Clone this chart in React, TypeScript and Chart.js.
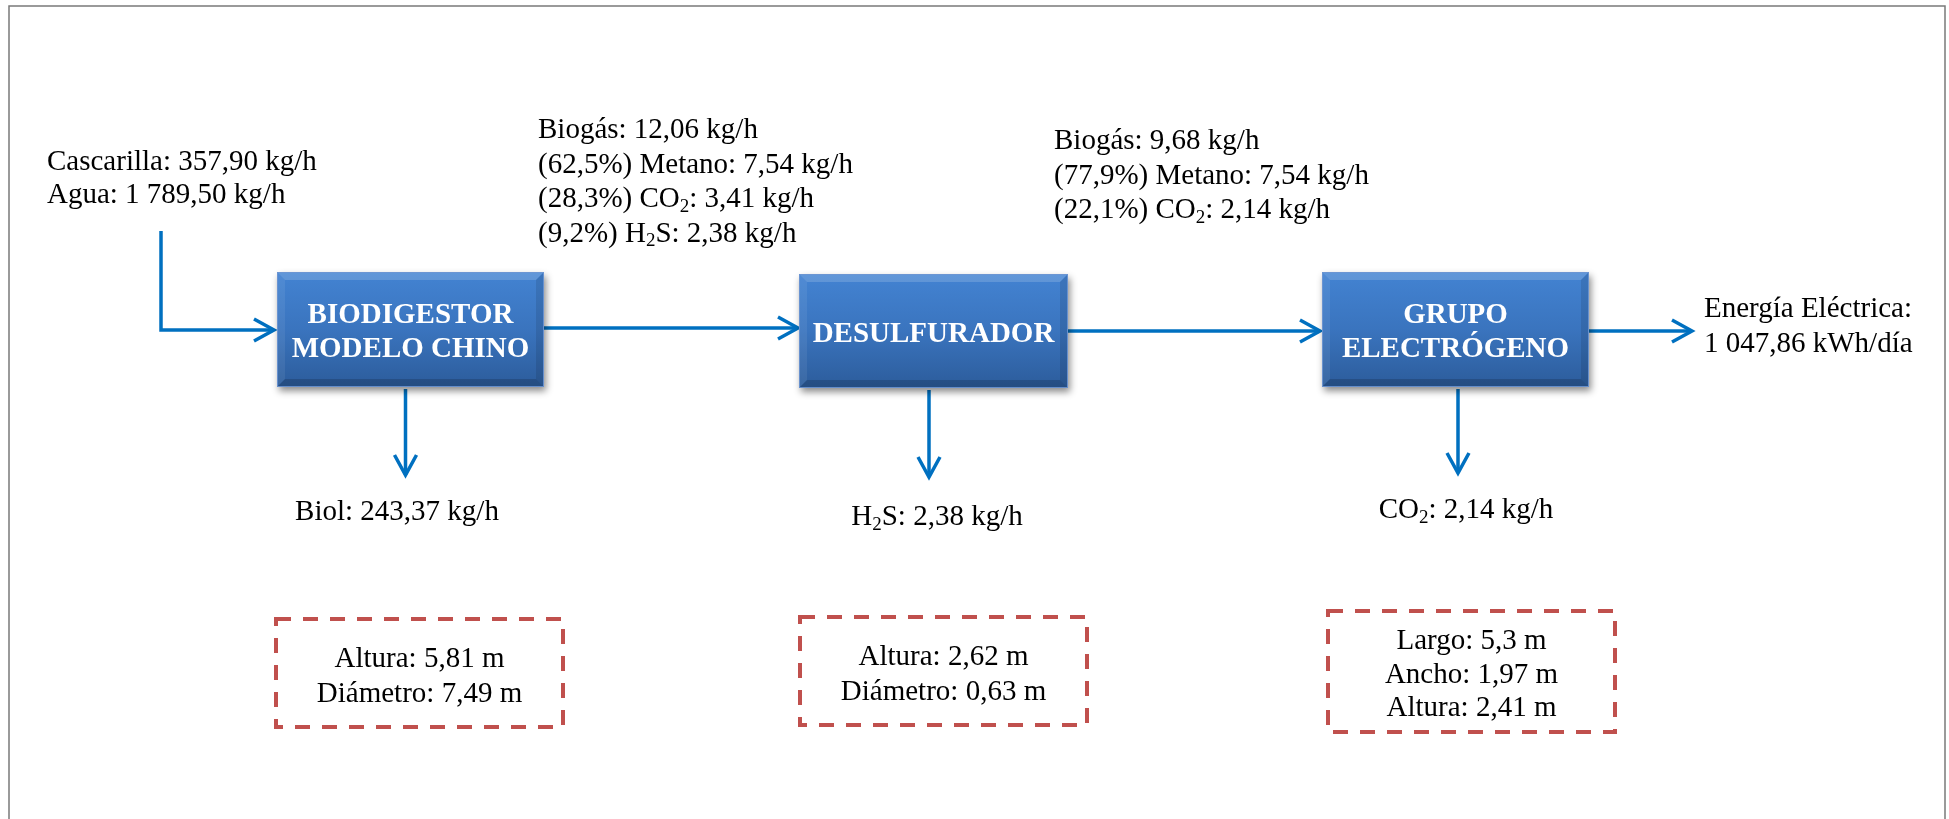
import React, { useEffect, useRef } from "react";
import { Chart, registerables } from "chart.js";

Chart.register(...registerables);

// ---------- content ----------
const unitNames: string[][] = [["BIODIGESTOR", "MODELO CHINO"], ["DESULFURADOR"], ["GRUPO", "ELECTRÓGENO"]];
const feedLines: string[] = ["Cascarilla: 357,90 kg/h", "Agua: 1 789,50 kg/h"];
const rawBiogasLines: string[] = [
  "Biogás: 12,06 kg/h",
  "(62,5%) Metano: 7,54 kg/h",
  "(28,3%) CO_2: 3,41 kg/h",
  "(9,2%) H_2S: 2,38 kg/h",
];
const cleanBiogasLines: string[] = ["Biogás: 9,68 kg/h", "(77,9%) Metano: 7,54 kg/h", "(22,1%) CO_2: 2,14 kg/h"];
const powerLines: string[] = ["Energía Eléctrica:", "1 047,86 kWh/día"];
const sideStreams: string[] = ["Biol: 243,37 kg/h", "H_2S: 2,38 kg/h", "CO_2: 2,14 kg/h"];
const sizingLines: string[][] = [
  ["Altura: 5,81 m", "Diámetro: 7,49 m"],
  ["Altura: 2,62 m", "Diámetro: 0,63 m"],
  ["Largo: 5,3 m", "Ancho: 1,97 m", "Altura: 2,41 m"],
];

// ---------- layout (in scale units of the diagram plane) ----------
const PLANE_W = 1949;
const PLANE_H = 819;
const unitBoxes: number[][] = [
  [277, 272, 544, 387],
  [799, 274, 1068, 388],
  [1322, 272, 1589, 387],
];
const sizingBoxes: number[][] = [
  [276, 619, 563, 727],
  [800, 617, 1087, 725],
  [1328, 611, 1615, 732],
];
const flowPaths: number[][][] = [
  [[161, 231], [161, 330], [274, 330]],
  [[544, 328], [798, 328]],
  [[1068, 331], [1320, 331]],
  [[1589, 331], [1692, 331]],
  [[405.5, 389], [405.5, 475]],
  [[929, 390], [929, 477]],
  [[1458, 389], [1458, 473]],
];
const leftBlocks: { lines: string[]; at: number[]; gap: number }[] = [
  { lines: feedLines, at: [47, 170], gap: 33.3 },
  { lines: rawBiogasLines, at: [538, 138.3], gap: 34.4 },
  { lines: cleanBiogasLines, at: [1054, 149.3], gap: 34.5 },
  { lines: powerLines, at: [1704, 316.7], gap: 35 },
];
const sideAnchors: number[][] = [
  [397, 520],
  [937, 525],
  [1466, 518],
];

const FLOW_COLOR = "#0070C0";
const DASH_COLOR = "#C0504D";
const FONT = '"Liberation Serif", "Times New Roman", serif';
const FS = 29;

type Seg = { t: string; sub: boolean };
function parseSegs(t: string): Seg[] {
  const out: Seg[] = [];
  const re = /_(\d)/g;
  let last = 0;
  let m: RegExpExecArray | null;
  while ((m = re.exec(t))) {
    if (m.index > last) out.push({ t: t.slice(last, m.index), sub: false });
    out.push({ t: m[1], sub: true });
    last = re.lastIndex;
  }
  if (last < t.length) out.push({ t: t.slice(last), sub: false });
  return out;
}

function drawRich(
  ctx: CanvasRenderingContext2D,
  text: string,
  x: number,
  y: number,
  align: "left" | "center",
  size: number,
  bold: boolean,
  color: string
) {
  const segs = parseSegs(text);
  const w = bold ? "bold " : "";
  const fMain = `${w}${size}px ${FONT}`;
  const fSub = `${w}${Math.round(size * 0.64)}px ${FONT}`;
  let total = 0;
  const widths = segs.map((s) => {
    ctx.font = s.sub ? fSub : fMain;
    const ww = ctx.measureText(s.t).width;
    total += ww;
    return ww;
  });
  let cx = align === "center" ? x - total / 2 : x;
  ctx.fillStyle = color;
  ctx.textAlign = "left";
  ctx.textBaseline = "alphabetic";
  segs.forEach((s, i) => {
    ctx.font = s.sub ? fSub : fMain;
    ctx.fillText(s.t, cx, s.sub ? y + size * 0.16 : y);
    cx += widths[i];
  });
}

const diagramPlugin = {
  id: "processDiagram",
  afterDatasetsDraw(chart: any) {
    const ctx: CanvasRenderingContext2D = chart.ctx;
    const sx = (v: number) => chart.scales.x.getPixelForValue(v);
    const sy = (v: number) => chart.scales.y.getPixelForValue(v);

    ctx.save();
    // outer frame
    ctx.strokeStyle = "#7a7a7a";
    ctx.lineWidth = 1.5;
    ctx.beginPath();
    ctx.moveTo(sx(9), sy(PLANE_H + 5));
    ctx.lineTo(sx(9), sy(6));
    ctx.lineTo(sx(1945), sy(6));
    ctx.lineTo(sx(1945), sy(PLANE_H + 5));
    ctx.stroke();

    // arrow heads
    ctx.strokeStyle = FLOW_COLOR;
    ctx.lineWidth = 3.5;
    ctx.lineJoin = "miter";
    ctx.lineCap = "butt";
    flowPaths.forEach((p) => {
      const a = p[p.length - 2];
      const b = p[p.length - 1];
      const ax = sx(a[0]), ay = sy(a[1]), bx = sx(b[0]), by = sy(b[1]);
      const len = Math.hypot(bx - ax, by - ay);
      const ux = (bx - ax) / len, uy = (by - ay) / len;
      const nx = -uy, ny = ux;
      const L = 20, Hw = 11;
      ctx.beginPath();
      ctx.moveTo(bx - L * ux + Hw * nx, by - L * uy + Hw * ny);
      ctx.lineTo(bx, by);
      ctx.lineTo(bx - L * ux - Hw * nx, by - L * uy - Hw * ny);
      ctx.stroke();
    });

    // unit boxes
    unitBoxes.forEach((bx, i) => {
      const x0 = sx(bx[0]), y0 = sy(bx[1]), x1 = sx(bx[2]), y1 = sy(bx[3]);
      const g = ctx.createLinearGradient(0, y0, 0, y1);
      g.addColorStop(0, "#4383D2");
      g.addColorStop(0.5, "#3A74BE");
      g.addColorStop(1, "#2C5C9B");
      ctx.save();
      ctx.shadowColor = "rgba(0,0,0,0.45)";
      ctx.shadowBlur = 7;
      ctx.shadowOffsetX = 2;
      ctx.shadowOffsetY = 4;
      ctx.fillStyle = g;
      ctx.fillRect(x0, y0, x1 - x0, y1 - y0);
      ctx.restore();
      const b = 8;
      const poly = (pts: number[][], fill: string) => {
        ctx.beginPath();
        ctx.moveTo(pts[0][0], pts[0][1]);
        for (let k = 1; k < pts.length; k++) ctx.lineTo(pts[k][0], pts[k][1]);
        ctx.closePath();
        ctx.fillStyle = fill;
        ctx.fill();
      };
      poly([[x0, y0], [x1, y0], [x1 - b, y0 + b], [x0 + b, y0 + b]], "rgba(255,255,255,0.16)");
      poly([[x0, y0], [x0 + b, y0 + b], [x0 + b, y1 - b], [x0, y1]], "rgba(255,255,255,0.07)");
      poly([[x1, y0], [x1, y1], [x1 - b, y1 - b], [x1 - b, y0 + b]], "rgba(0,0,0,0.10)");
      poly([[x0, y1], [x0 + b, y1 - b], [x1 - b, y1 - b], [x1, y1]], "rgba(0,0,0,0.16)");
      ctx.strokeStyle = "rgba(110,150,210,0.9)";
      ctx.lineWidth = 1;
      ctx.strokeRect(x0 + 0.5, y0 + 0.5, x1 - x0 - 1, y1 - y0 - 1);

      const names = unitNames[i];
      const cx = (bx[0] + bx[2]) / 2;
      const cy = (bx[1] + bx[3]) / 2;
      const lh = 34.6;
      names.forEach((n, k) => {
        const yy = cy - ((names.length - 1) / 2) * lh + k * lh + 10.5;
        drawRich(ctx, n, sx(cx), sy(yy), "center", FS, true, "#ffffff");
      });
    });

    // left aligned stream labels
    leftBlocks.forEach((blk) => {
      blk.lines.forEach((ln, k) => {
        drawRich(ctx, ln, sx(blk.at[0]), sy(blk.at[1] + k * blk.gap), "left", FS, false, "#000000");
      });
    });

    // side streams
    sideStreams.forEach((s, i) => {
      drawRich(ctx, s, sx(sideAnchors[i][0]), sy(sideAnchors[i][1]), "center", FS, false, "#000000");
    });

    // dashed sizing boxes
    sizingBoxes.forEach((bx, i) => {
      const x0 = sx(bx[0]), y0 = sy(bx[1]), x1 = sx(bx[2]), y1 = sy(bx[3]);
      ctx.save();
      ctx.strokeStyle = DASH_COLOR;
      ctx.lineWidth = 4;
      ctx.setLineDash([15, 12]);
      ctx.strokeRect(x0, y0, x1 - x0, y1 - y0);
      ctx.restore();
      const lines = sizingLines[i];
      const cx = (bx[0] + bx[2]) / 2;
      const cy = (bx[1] + bx[3]) / 2;
      const lh = lines.length > 2 ? 33.4 : 35;
      lines.forEach((ln, k) => {
        const yy = cy - ((lines.length - 1) / 2) * lh + k * lh + 11;
        drawRich(ctx, ln, sx(cx), sy(yy), "center", FS, false, "#000000");
      });
    });
    ctx.restore();
  },
};

export default function App() {
  const canvasRef = useRef<HTMLCanvasElement | null>(null);

  useEffect(() => {
    const canvas = canvasRef.current;
    if (!canvas) return;
    const chart = new Chart(canvas, {
      type: "scatter",
      data: {
        datasets: flowPaths.map((p, i) => ({
          label: `flow${i}`,
          data: p.map(([x, y]) => ({ x, y })),
          showLine: true,
          borderColor: FLOW_COLOR,
          backgroundColor: FLOW_COLOR,
          borderWidth: 3.5,
          pointRadius: 0,
          pointHoverRadius: 0,
          tension: 0,
          fill: false,
          borderJoinStyle: "miter" as const,
          borderCapStyle: "butt" as const,
        })),
      },
      options: {
        responsive: false,
        maintainAspectRatio: false,
        devicePixelRatio: 1,
        animation: false,
        events: [],
        layout: { padding: 0 },
        plugins: {
          legend: { display: false },
          tooltip: { enabled: false },
          title: { display: false },
        },
        scales: {
          x: { type: "linear", min: 0, max: PLANE_W, display: false },
          y: { type: "linear", min: 0, max: PLANE_H, reverse: true, display: false },
        },
      },
      plugins: [diagramPlugin],
    });
    return () => chart.destroy();
  }, []);

  return (
    <div style={{ position: "fixed", left: 0, top: 0, width: PLANE_W, height: PLANE_H, background: "#ffffff" }}>
      <canvas ref={canvasRef} width={PLANE_W} height={PLANE_H} style={{ display: "block" }} />
    </div>
  );
}
